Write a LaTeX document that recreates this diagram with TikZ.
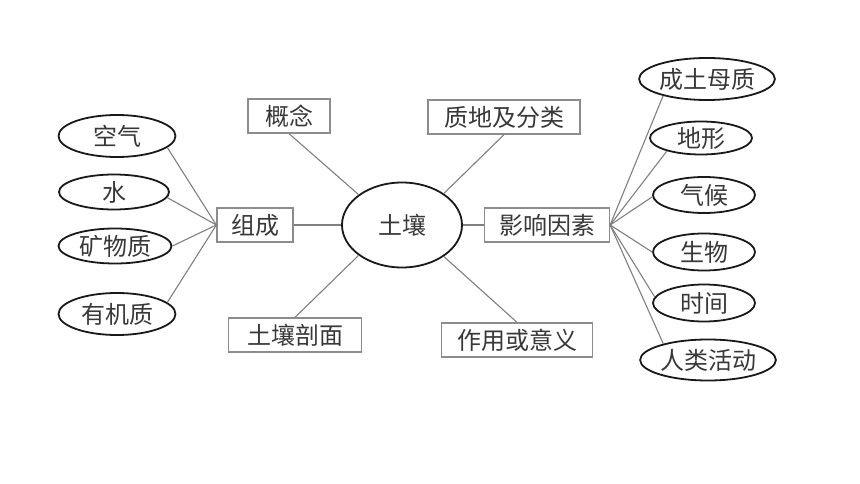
\documentclass[tikz,border=0pt]{standalone}
\usepackage{fontspec}
\newfontfamily\cjk{Noto Sans CJK SC}
\usetikzlibrary{shapes.geometric}
\tikzset{
  lbl/.style={font=\cjk\fontsize{24}{26}\selectfont, text=black!78, inner sep=0pt},
  boxn/.style={lbl, draw=black!45, line width=1.3pt, rectangle, minimum height=34pt},
  ell/.style={lbl, draw=black!90, line width=1.8pt, ellipse, inner sep=0pt},
  conn/.style={draw=black!50, line width=1.1pt}
}
\begin{document}
\begin{tikzpicture}[x=1pt,y=-1pt]
\useasboundingbox[fill=white] (0,0) rectangle (860,484);
% center
\node[ell, minimum width=120pt, minimum height=85pt] (soil) at (402,225) {土壤};
% boxes
\node[boxn, minimum width=82pt] (concept) at (289,116) {概念};
\node[boxn, minimum width=152pt] (texture) at (504,117) {质地及分类};
\node[boxn, minimum width=76pt] (comp) at (255,225) {组成};
\node[boxn, minimum width=125pt] (factor) at (547,225) {影响因素};
\node[boxn, minimum width=133pt] (profile) at (295,335) {土壤剖面};
\node[boxn, minimum width=151pt] (role) at (517,340) {作用或意义};
% left ellipses
\node[ell, minimum width=117pt, minimum height=42pt] (air) at (117,136) {空气};
\node[ell, minimum width=110pt, minimum height=35pt] (water) at (114,192) {水};
\node[ell, minimum width=113pt, minimum height=35pt] (mineral) at (115,246) {矿物质};
\node[ell, minimum width=117pt, minimum height=42pt] (organic) at (117,314) {有机质};
% right ellipses
\node[ell, minimum width=134pt, minimum height=42pt] (parent) at (707,79) {成土母质};
\node[ell, minimum width=102pt, minimum height=33pt] (terrain) at (701,138) {地形};
\node[ell, minimum width=102pt, minimum height=36pt] (climate) at (704,195) {气候};
\node[ell, minimum width=102pt, minimum height=37pt] (bio) at (704,252) {生物};
\node[ell, minimum width=102pt, minimum height=37pt] (time) at (704,303) {时间};
\node[ell, minimum width=132pt, minimum height=41pt] (human) at (708,360) {人类活动};
% connectors to soil
\draw[conn] (concept.south) -- (soil.145);
\draw[conn] (texture.south) -- (soil.37);
\draw[conn] (profile.north) -- (soil.215);
\draw[conn] (role.north) -- (soil.323);
\draw[conn] (comp.east) -- (soil.west);
\draw[conn] (soil.east) -- (factor.west);
% composition
\draw[conn] (air.-13) -- (comp.west);
\draw[conn] (water.-6) -- (comp.west);
\draw[conn] (mineral.east) -- (comp.west);
\draw[conn] (organic.13) -- (comp.west);
% factors
\draw[conn] (factor.east) -- (parent.201);
\draw[conn] (factor.east) -- (terrain.201);
\draw[conn] (factor.east) -- (climate.182);
\draw[conn] (factor.east) -- (bio.west);
\draw[conn] (factor.east) -- (time.173);
\draw[conn] (factor.east) -- (human.160);
\end{tikzpicture}
\end{document}
